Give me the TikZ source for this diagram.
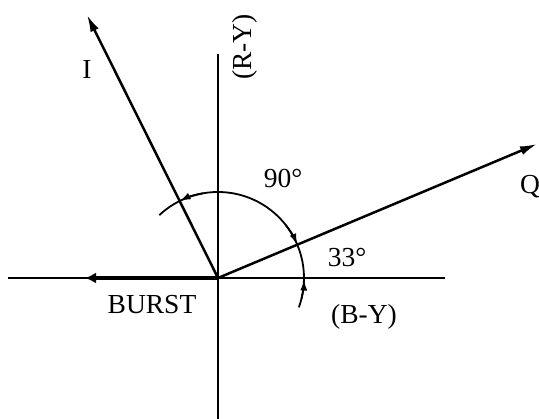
\documentclass[tikz,border=0pt]{standalone}
\usepackage{fontspec}
\setmainfont{Liberation Serif}
\usetikzlibrary{arrows.meta}
\begin{document}
\begin{tikzpicture}[x=1pt,y=-1pt,
  lbl/.style={inner sep=0pt, font=\fontsize{27.5}{30}\selectfont},
  axis/.style={line width=2pt},
  vec/.style={line width=2.5pt, -{Latex[length=17pt,width=9pt]}},
  burst/.style={line width=4pt, -{Latex[length=11pt,width=11pt]}},
  dim/.style={line width=1.8pt, -{Latex[length=11pt,width=7pt]}}]
\useasboundingbox (0,0) rectangle (539,419);
\coordinate (O) at (218,278);
\coordinate (ytop) at (218,54);
\coordinate (ybot) at (218,419);
\coordinate (xleft) at (8,278);
\coordinate (xright) at (445,278);
\coordinate (btip) at (85,278);
\coordinate (itip) at (87,15);
\coordinate (qtip) at (537,144);
% axes
\draw[axis] (ybot) -- (ytop);
\draw[line width=2.2pt] (xleft) -- (xright);
% vectors
\draw[burst] (O) -- (btip);
\draw[vec] (O) -- (itip);
\draw[vec] (O) -- (qtip);
% angle arc (angles negated because the y axis points down)
\draw[line width=1.8pt] (O) ++(-133:86) arc[start angle=-133, end angle=20, radius=86];
\draw[dim] (O) ++(-100:86) arc[start angle=-100, end angle=-116.5, radius=86];
\draw[dim] (O) ++(-38:86) arc[start angle=-38, end angle=-22.8, radius=86];
\draw[dim] (O) ++(14:86) arc[start angle=14, end angle=1, radius=86];
% labels
\node[lbl, rotate=90] (ry) at (245,47) {(R-Y)};
\node[lbl] (il) at (87,70) {I};
\node[lbl] (a90) at (283,178) {90°};
\node[lbl] (ql) at (530,187) {Q};
\node[lbl] (a33) at (347,257) {33°};
\node[lbl] (bl) at (152,305) {BURST};
\node[lbl] (by) at (364,317) {(B-Y)};
\end{tikzpicture}
\end{document}
